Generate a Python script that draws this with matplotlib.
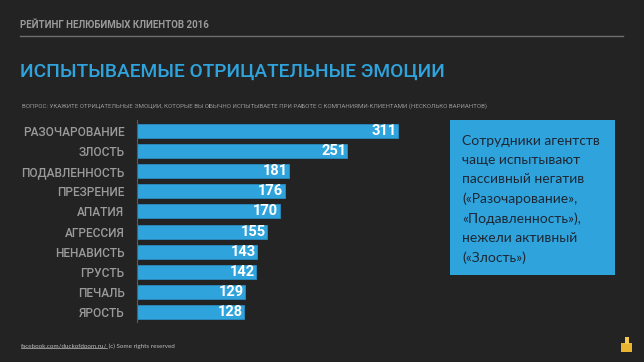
import matplotlib
matplotlib.use('Agg')
import matplotlib.pyplot as plt
from matplotlib.patches import Rectangle
from matplotlib.lines import Line2D

# data
emotions = ['РАЗОЧАРОВАНИЕ', 'ЗЛОСТЬ', 'ПОДАВЛЕННОСТЬ', 'ПРЕЗРЕНИЕ', 'АПАТИЯ',
            'АГРЕССИЯ', 'НЕНАВИСТЬ', 'ГРУСТЬ', 'ПЕЧАЛЬ', 'ЯРОСТЬ']
counts = [311, 251, 181, 176, 170, 155, 143, 142, 129, 128]

header = 'РЕЙТИНГ НЕЛЮБИМЫХ КЛИЕНТОВ 2016'
title = 'ИСПЫТЫВАЕМЫЕ ОТРИЦАТЕЛЬНЫЕ ЭМОЦИИ'
question = ('ВОПРОС: УКАЖИТЕ ОТРИЦАТЕЛЬНЫЕ ЭМОЦИИ, КОТОРЫЕ ВЫ ОБЫЧНО ИСПЫТЫВАЕТЕ '
            'ПРИ РАБОТЕ С КОМПАНИЯМИ-КЛИЕНТАМИ (НЕСКОЛЬКО ВАРИАНТОВ)')
note = ('Сотрудники агентств\nчаще испытывают\nпассивный негатив\n'
        '(«Разочарование»,\n«Подавленность»),\nнежели активный\n(«Злость»)')
footer_link = 'facebook.com/duckofdoom.ru/'
footer_rest = ' (c) Some rights reserved'

BG = '#232323'
BLUE = '#2fa3dc'
GREY = '#9a9a9a'

W, H = 644, 362


def main():
    plt.rcParams['font.family'] = ['Roboto', 'DejaVu Sans']

    fig = plt.figure(figsize=(W / 100, H / 100), dpi=100, facecolor=BG)

    # header block
    fig.text(20 / W, 1 - 25 / H, header, color=GREY, fontsize=7, fontweight='bold',
             va='center', ha='left')
    fig.add_artist(Line2D([20 / W, 623 / W], [1 - 36 / H, 1 - 36 / H],
                          color='#6e6e6e', linewidth=1))
    fig.text(20 / W, 1 - 72 / H, title, color=BLUE, fontsize=13.8, fontweight='medium',
             va='center', ha='left')
    fig.text(22 / W, 1 - 106 / H, question, color=GREY, fontsize=4.45,
             va='center', ha='left')

    # bar chart
    ax = fig.add_axes([137 / W, 1 - 322 / H, 285 / W, 202 / H])
    ax.set_facecolor(BG)
    y = list(range(len(emotions)))
    ax.barh(y, counts, height=0.7, color=BLUE, edgecolor='#2a8cc0', linewidth=0.6)
    ax.set_xlim(0, 340)
    ax.set_ylim(9.5, -0.55)
    ax.set_yticks(y)
    ax.set_yticklabels(emotions, color=GREY, fontsize=8.6, fontweight='medium')
    ax.tick_params(axis='y', length=0, pad=9)
    ax.set_xticks([])
    for side in ['top', 'right', 'bottom']:
        ax.spines[side].set_visible(False)
    ax.spines['left'].set_color('#5a5a5a')
    ax.spines['left'].set_linewidth(0.8)
    for yi, v in zip(y, counts):
        ax.text(v - 1.5, yi, str(v), color='white', fontsize=10.5, fontweight='bold',
                ha='right', va='center')

    # side note box
    fig.add_artist(Rectangle((450 / W, 1 - 275 / H), 165 / W, 155 / H,
                             transform=fig.transFigure, facecolor=BLUE,
                             edgecolor='none'))
    fig.text(462 / W, 1 - 135 / H, note, color='#1d2733', fontsize=10,
             family=['Lato', 'DejaVu Sans'], va='top', ha='left', linespacing=1.7)

    # footer
    link = fig.text(21 / W, 1 - 346 / H, footer_link, color='#bbbbbb', fontsize=4.5,
                    va='center', ha='left', family=['Lato', 'DejaVu Sans'])
    fig.canvas.draw()
    bb = link.get_window_extent()
    fig.add_artist(Line2D([bb.x0 / W, bb.x1 / W], [(bb.y0 + 0.5) / H] * 2,
                          color='#bbbbbb', linewidth=0.5))
    fig.text(bb.x1 / W, 1 - 346 / H, footer_rest, color='#bbbbbb', fontsize=4.5,
             va='center', ha='left', family=['Lato', 'DejaVu Sans'])

    # little yellow duck mark in the corner
    fig.add_artist(Rectangle((621 / W, 1 - 352 / H), 11 / W, 9 / H,
                             transform=fig.transFigure, facecolor='#e9b531',
                             edgecolor='none'))
    fig.add_artist(Rectangle((625 / W, 1 - 344 / H), 4 / W, 7 / H,
                             transform=fig.transFigure, facecolor='#f2c94c',
                             edgecolor='none'))

    fig.savefig('out.png', dpi=100, facecolor=BG)


if __name__ == '__main__':
    main()
